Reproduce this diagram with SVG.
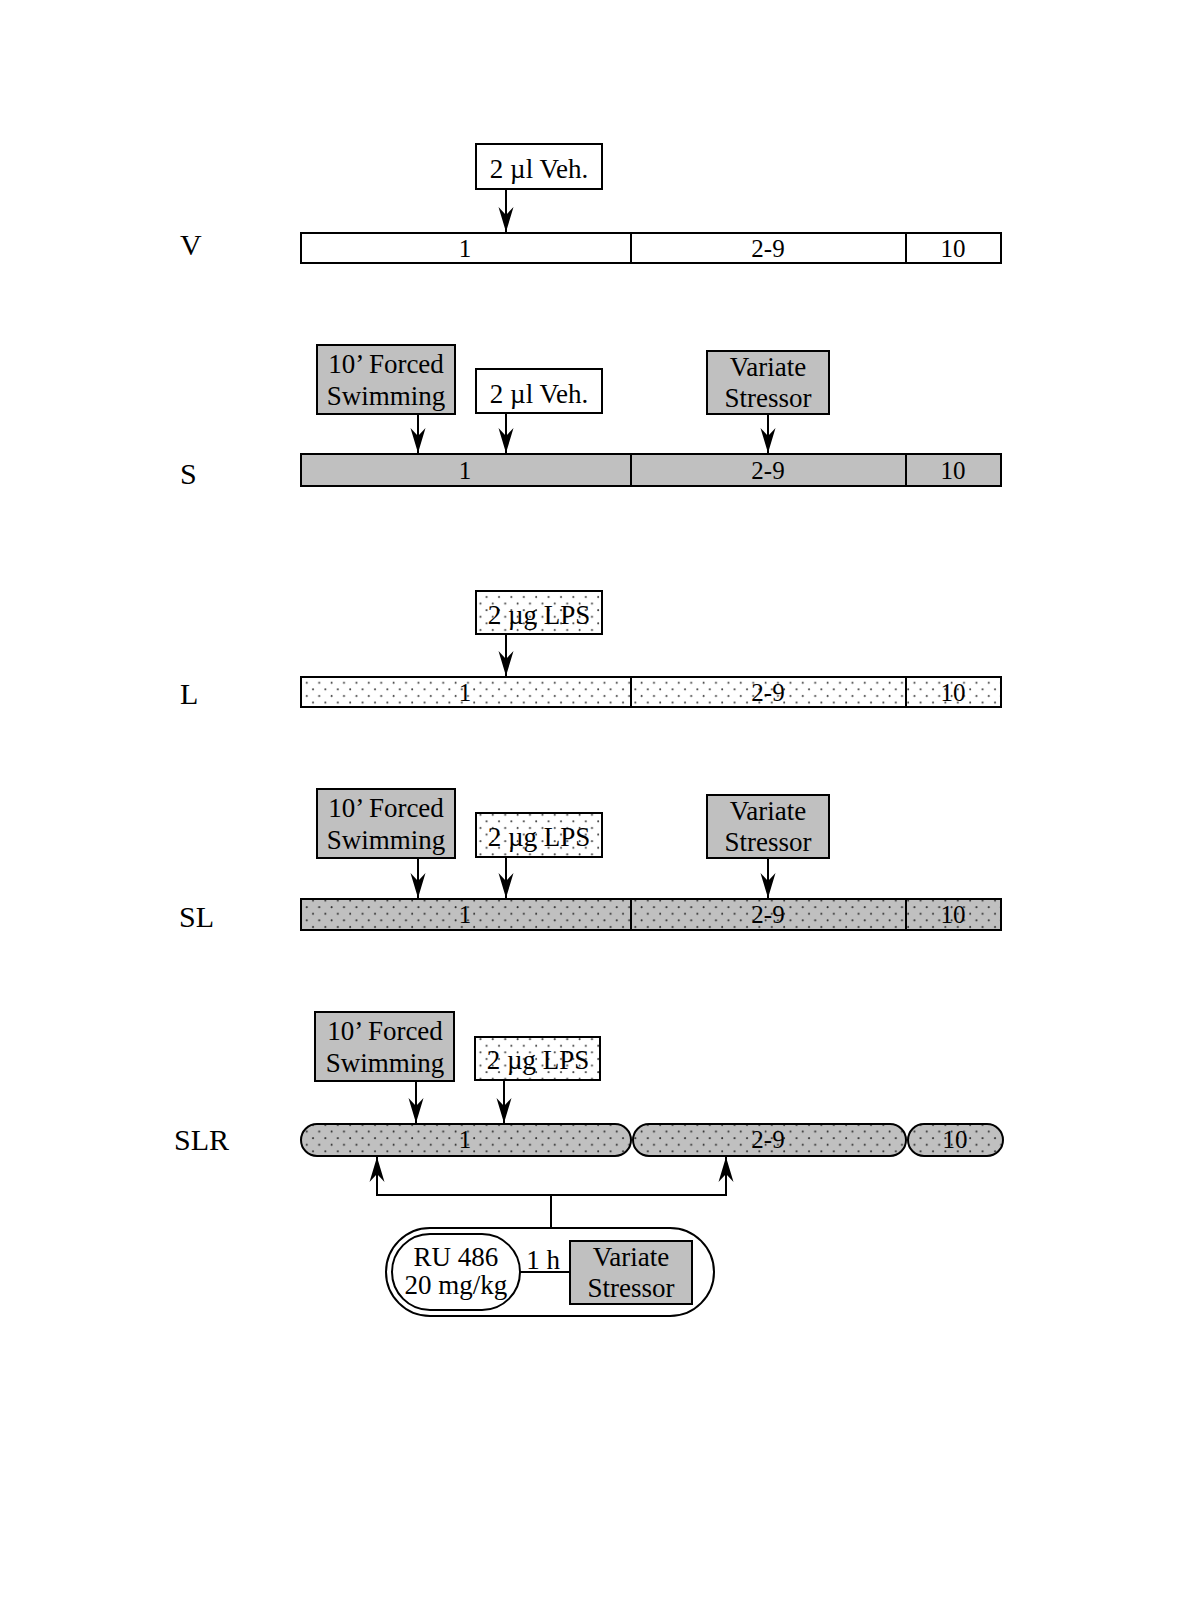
<svg xmlns="http://www.w3.org/2000/svg" width="1200" height="1600" viewBox="0 0 1200 1600">
<defs>
<style>
.b{stroke:#000;stroke-width:2}
.w{fill:#fff}
.g{fill:#c0c0c0}
.dw{fill:url(#dotsW)}
.dg{fill:url(#dotsG)}
.ln{stroke:#000;stroke-width:2;fill:none}
.ar{stroke:#000;stroke-width:2;fill:none;marker-end:url(#ah)}
text{font-family:"Liberation Serif","Times New Roman",serif;fill:#000}
.t{font-size:27px;text-anchor:middle}
.n{font-size:25px;text-anchor:middle}
.lab{font-size:30px}
</style>
<pattern id="dotsW" patternUnits="userSpaceOnUse" width="12.4" height="13.2">
<rect width="12.4" height="13.2" fill="#fff"/>
<circle cx="3" cy="3" r="1" fill="#444"/>
<circle cx="9.2" cy="9.6" r="1" fill="#444"/>
</pattern>
<pattern id="dotsG" patternUnits="userSpaceOnUse" width="12.4" height="13.2">
<rect width="12.4" height="13.2" fill="#c0c0c0"/>
<circle cx="3" cy="3" r="1" fill="#333"/>
<circle cx="9.2" cy="9.6" r="1" fill="#333"/>
</pattern>
<marker id="ah" markerUnits="userSpaceOnUse" viewBox="0 -8 25 16" refX="25" refY="0" markerWidth="25" markerHeight="16" orient="auto">
<path d="M0,-7.5 L25,0 L0,7.5 L8,0 Z" fill="#000"/>
</marker>
</defs>
<rect width="1200" height="1600" fill="#fff"/>

<!-- Row labels -->
<g id="labels">
<text class="lab" x="180" y="255">V</text>
<text class="lab" x="180" y="484">S</text>
<text class="lab" x="180" y="704">L</text>
<text class="lab" x="179" y="927">SL</text>
<text class="lab" x="174" y="1150">SLR</text>
</g>

<!-- V row -->
<g id="V-bar">
<rect class="b w" x="301" y="233" width="700" height="30"/>
<line class="ln" x1="631" y1="233" x2="631" y2="263"/>
<line class="ln" x1="906" y1="233" x2="906" y2="263"/>
<text class="n" x="465" y="257">1</text>
<text class="n" x="768" y="257">2-9</text>
<text class="n" x="953" y="257">10</text>
</g>
<g id="V-veh">
<rect class="b w" x="476" y="144" width="126" height="45"/>
<text class="t" x="539" y="178">2 µl Veh.</text>
</g>

<!-- S row -->
<g id="S-bar">
<rect class="b g" x="301" y="454" width="700" height="32"/>
<line class="ln" x1="631" y1="454" x2="631" y2="486"/>
<line class="ln" x1="906" y1="454" x2="906" y2="486"/>
<text class="n" x="465" y="479">1</text>
<text class="n" x="768" y="479">2-9</text>
<text class="n" x="953" y="479">10</text>
</g>
<g id="S-swim">
<rect class="b g" x="317" y="345" width="138" height="69"/>
<text class="t" x="386" y="373">10’ Forced</text>
<text class="t" x="386" y="405">Swimming</text>
</g>
<g id="S-veh">
<rect class="b w" x="476" y="369" width="126" height="44"/>
<text class="t" x="539" y="403">2 µl Veh.</text>
</g>
<g id="S-stress">
<rect class="b g" x="707" y="351" width="122" height="63"/>
<text class="t" x="768" y="376">Variate</text>
<text class="t" x="768" y="407">Stressor</text>
</g>

<!-- L row -->
<g id="L-bar">
<rect class="b dw" x="301" y="677" width="700" height="30"/>
<line class="ln" x1="631" y1="677" x2="631" y2="707"/>
<line class="ln" x1="906" y1="677" x2="906" y2="707"/>
<text class="n" x="465" y="701">1</text>
<text class="n" x="768" y="701">2-9</text>
<text class="n" x="953" y="701">10</text>
</g>
<g id="L-lps">
<rect class="b dw" x="476" y="591" width="126" height="43"/>
<text class="t" x="539" y="624">2 µg LPS</text>
</g>

<!-- SL row -->
<g id="SL-bar">
<rect class="b dg" x="301" y="899" width="700" height="31"/>
<line class="ln" x1="631" y1="899" x2="631" y2="930"/>
<line class="ln" x1="906" y1="899" x2="906" y2="930"/>
<text class="n" x="465" y="923">1</text>
<text class="n" x="768" y="923">2-9</text>
<text class="n" x="953" y="923">10</text>
</g>
<g id="SL-swim">
<rect class="b g" x="317" y="789" width="138" height="69"/>
<text class="t" x="386" y="817">10’ Forced</text>
<text class="t" x="386" y="849">Swimming</text>
</g>
<g id="SL-lps">
<rect class="b dw" x="476" y="813" width="126" height="44"/>
<text class="t" x="539" y="846">2 µg LPS</text>
</g>
<g id="SL-stress">
<rect class="b g" x="707" y="795" width="122" height="63"/>
<text class="t" x="768" y="820">Variate</text>
<text class="t" x="768" y="851">Stressor</text>
</g>

<!-- SLR row -->
<g id="SLR-bar1">
<rect class="b dg" x="301" y="1124" width="330" height="32" rx="16"/>
<text class="n" x="465" y="1148">1</text>
</g>
<g id="SLR-bar2">
<rect class="b dg" x="633" y="1124" width="273" height="32" rx="16"/>
<text class="n" x="768" y="1148">2-9</text>
</g>
<g id="SLR-bar3">
<rect class="b dg" x="908" y="1124" width="95" height="32" rx="16"/>
<text class="n" x="955" y="1148">10</text>
</g>
<g id="SLR-swim">
<rect class="b g" x="315" y="1012" width="139" height="69"/>
<text class="t" x="385" y="1040">10’ Forced</text>
<text class="t" x="385" y="1072">Swimming</text>
</g>
<g id="SLR-lps">
<rect class="b dw" x="475" y="1037" width="125" height="43"/>
<text class="t" x="538" y="1069">2 µg LPS</text>
</g>
<g id="SLR-treatment">
<rect class="b w" x="386" y="1228" width="328" height="88" rx="44"/>
<rect class="b w" x="392" y="1234" width="128" height="76" rx="38"/>
<text class="t" x="456" y="1266">RU 486</text>
<text class="t" x="456" y="1294">20 mg/kg</text>
<rect class="b g" x="570" y="1241" width="122" height="63"/>
<text class="t" x="631" y="1266">Variate</text>
<text class="t" x="631" y="1297">Stressor</text>
<line class="ln" x1="520" y1="1272" x2="570" y2="1272"/>
<text class="t" x="543" y="1269">1 h</text>
</g>

<!-- Connectors -->
<g id="connectors">
<line class="ar" x1="506" y1="189" x2="506" y2="232"/>
<line class="ar" x1="418" y1="414" x2="418" y2="453"/>
<line class="ar" x1="506" y1="413" x2="506" y2="453"/>
<line class="ar" x1="768" y1="414" x2="768" y2="453"/>
<line class="ar" x1="506" y1="634" x2="506" y2="676"/>
<line class="ar" x1="418" y1="858" x2="418" y2="898"/>
<line class="ar" x1="506" y1="857" x2="506" y2="898"/>
<line class="ar" x1="768" y1="858" x2="768" y2="898"/>
<line class="ar" x1="416" y1="1081" x2="416" y2="1123"/>
<line class="ar" x1="504" y1="1080" x2="504" y2="1123"/>
<path class="ln" d="M551,1228 V1195 M377,1195 H726"/>
<line class="ar" x1="377" y1="1196" x2="377" y2="1157"/>
<line class="ar" x1="726" y1="1196" x2="726" y2="1157"/>
</g>
</svg>
